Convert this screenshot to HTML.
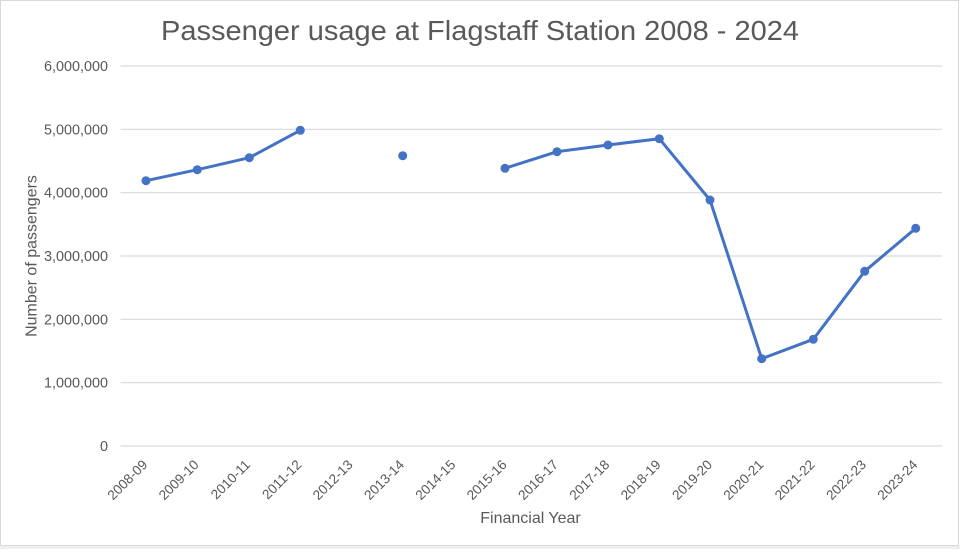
<!DOCTYPE html>
<html>
<head>
<meta charset="utf-8">
<style>
  html, body { margin: 0; padding: 0; background: #ffffff; }
  svg { display: block; }
  text { font-family: "Liberation Sans", Arial, sans-serif; fill: #595959; }
</style>
</head>
<body>
<svg width="960" height="549" viewBox="0 0 960 549" xmlns="http://www.w3.org/2000/svg">
  <rect x="0" y="0" width="960" height="549" fill="#ffffff"/>
  <rect x="0" y="546" width="960" height="3" fill="#efefef"/>
  <rect x="0.5" y="0.5" width="958" height="545" fill="#ffffff" stroke="#d9d9d9" stroke-width="1"/>

  <!-- Title -->
  <text x="161" y="40" font-size="28" textLength="638" lengthAdjust="spacingAndGlyphs">Passenger usage at Flagstaff Station 2008 - 2024</text>

  <!-- Gridlines -->
  <g stroke="#d9d9d9" stroke-width="1.2">
    <line x1="120.5" y1="66" x2="942" y2="66"/>
    <line x1="120.5" y1="129.3" x2="942" y2="129.3"/>
    <line x1="120.5" y1="192.7" x2="942" y2="192.7"/>
    <line x1="120.5" y1="256" x2="942" y2="256"/>
    <line x1="120.5" y1="319.3" x2="942" y2="319.3"/>
    <line x1="120.5" y1="382.7" x2="942" y2="382.7"/>
    <line x1="120.5" y1="446" x2="942" y2="446"/>
  </g>

  <!-- Y tick labels -->
  <g font-size="14.4" text-anchor="end">
    <text x="108" y="71">6,000,000</text>
    <text x="108" y="134.3">5,000,000</text>
    <text x="108" y="197.7">4,000,000</text>
    <text x="108" y="261">3,000,000</text>
    <text x="108" y="324.3">2,000,000</text>
    <text x="108" y="387.7">1,000,000</text>
    <text x="108" y="451">0</text>
  </g>

  <!-- Y axis title -->
  <text transform="translate(36.5,256) rotate(-90)" font-size="16" text-anchor="middle">Number of passengers</text>

  <!-- X tick labels -->
  <g font-size="13.6" text-anchor="end">
    <text transform="translate(148.3,465.5) rotate(-45)">2008-09</text>
    <text transform="translate(199.6,465.5) rotate(-45)">2009-10</text>
    <text transform="translate(251,465.5) rotate(-45)">2010-11</text>
    <text transform="translate(302.3,465.5) rotate(-45)">2011-12</text>
    <text transform="translate(353.6,465.5) rotate(-45)">2012-13</text>
    <text transform="translate(405,465.5) rotate(-45)">2013-14</text>
    <text transform="translate(456.3,465.5) rotate(-45)">2014-15</text>
    <text transform="translate(507.6,465.5) rotate(-45)">2015-16</text>
    <text transform="translate(559,465.5) rotate(-45)">2016-17</text>
    <text transform="translate(610.3,465.5) rotate(-45)">2017-18</text>
    <text transform="translate(661.6,465.5) rotate(-45)">2018-19</text>
    <text transform="translate(713,465.5) rotate(-45)">2019-20</text>
    <text transform="translate(764.3,465.5) rotate(-45)">2020-21</text>
    <text transform="translate(815.6,465.5) rotate(-45)">2021-22</text>
    <text transform="translate(867,465.5) rotate(-45)">2022-23</text>
    <text transform="translate(918.3,465.5) rotate(-45)">2023-24</text>
  </g>

  <!-- X axis title -->
  <text x="530.5" y="523" font-size="16" text-anchor="middle">Financial Year</text>

  <!-- Series lines -->
  <g fill="none" stroke="#4472C4" stroke-width="3" stroke-linejoin="round" stroke-linecap="round">
    <polyline points="146,180.7 197.3,169.7 249.3,157.7 300.3,130.3"/>
    <polyline points="505,168.3 557,151.7 608,145 659.3,138.7 710,200 761.7,358.7 813.3,339.3 864.7,271.3 915.7,228.3"/>
  </g>

  <!-- Markers -->
  <g fill="#4472C4">
    <circle cx="146" cy="180.7" r="4.5"/>
    <circle cx="197.3" cy="169.7" r="4.5"/>
    <circle cx="249.3" cy="157.7" r="4.5"/>
    <circle cx="300.3" cy="130.3" r="4.5"/>
    <circle cx="402.7" cy="155.7" r="4.5"/>
    <circle cx="505" cy="168.3" r="4.5"/>
    <circle cx="557" cy="151.7" r="4.5"/>
    <circle cx="608" cy="145" r="4.5"/>
    <circle cx="659.3" cy="138.7" r="4.5"/>
    <circle cx="710" cy="200" r="4.5"/>
    <circle cx="761.7" cy="358.7" r="4.5"/>
    <circle cx="813.3" cy="339.3" r="4.5"/>
    <circle cx="864.7" cy="271.3" r="4.5"/>
    <circle cx="915.7" cy="228.3" r="4.5"/>
  </g>
</svg>
</body>
</html>
